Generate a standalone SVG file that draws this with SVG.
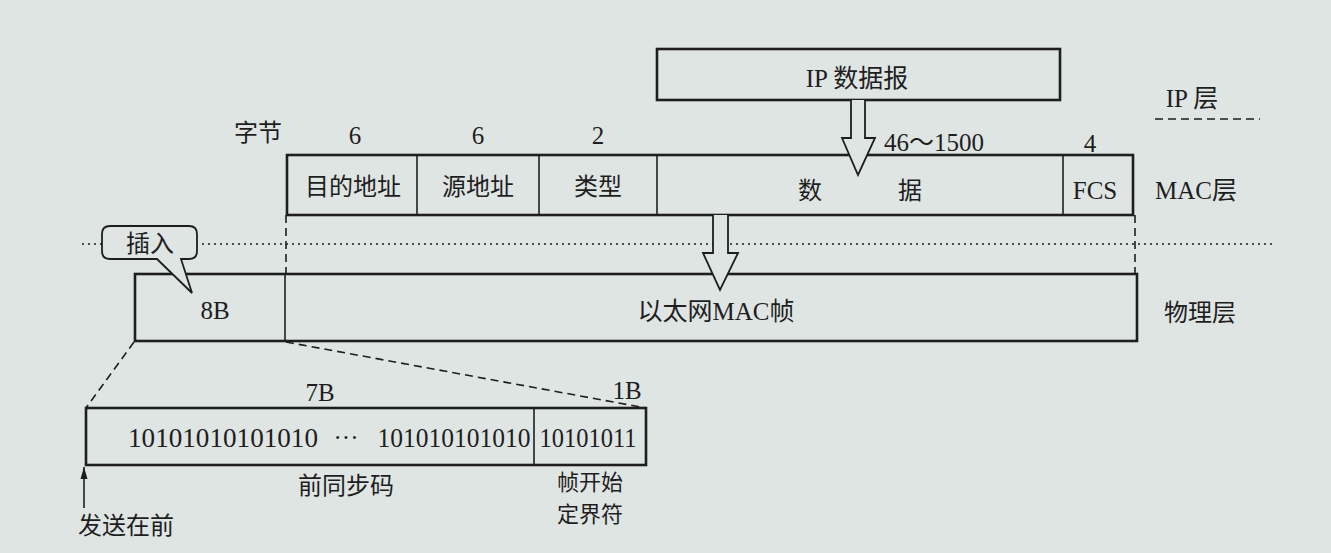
<svg xmlns="http://www.w3.org/2000/svg" width="1331" height="553" viewBox="0 0 1331 553">
<style>
.t{font-family:"Liberation Serif","Noto Sans CJK SC",serif;font-size:25px;fill:#1e1e1e;text-anchor:middle}
.b{font-size:28px}
.c{font-family:"Noto Sans CJK SC","Liberation Serif",sans-serif;font-size:24px;fill:#1e1e1e;text-anchor:middle}
.s{font-size:22px}
.box{fill:#dfe5e3;stroke:#1e1e1e;stroke-width:2.6}
.div{stroke:#1e1e1e;stroke-width:1.6;fill:none}
.dash{stroke:#1e1e1e;stroke-width:1.6;stroke-dasharray:8 5;fill:none}
.dot{stroke:#1e1e1e;stroke-width:1.4;stroke-dasharray:2 4;fill:none}
.arr{fill:#dfe5e3;stroke:#1e1e1e;stroke-width:1.8;stroke-linejoin:miter}
</style>
<defs>
<marker id="ah" markerWidth="12" markerHeight="8" refX="12" refY="4" orient="auto" markerUnits="userSpaceOnUse" viewBox="0 0 12 8">
<path d="M0,0.5 L12,4 L0,7.5 Z" fill="#1e1e1e"/>
</marker>
</defs>
<rect width="1331" height="553" fill="#dfe5e3"/>

<g id="connectors">
<line class="dot" x1="82" y1="244" x2="1272" y2="244"/>
<line class="dash" x1="1155" y1="119" x2="1260" y2="119"/>
<line class="dash" x1="286" y1="215" x2="286" y2="274"/>
<line class="dash" x1="1135" y1="215" x2="1135" y2="274"/>
<line class="dash" x1="134" y1="342" x2="86" y2="408"/>
<line class="dash" x1="286" y1="342" x2="646" y2="408"/>
<line x1="84" y1="508" x2="84" y2="467" stroke="#1e1e1e" stroke-width="1.6" marker-end="url(#ah)"/>
</g>

<g id="ip-datagram">
<rect class="box" x="657" y="49" width="403" height="51"/>
<text class="t" x="857" y="87">IP 数据报</text>
</g>

<g id="mac-frame">
<rect class="box" x="287" y="155" width="846" height="60"/>
<line class="div" x1="417" y1="155" x2="417" y2="215"/>
<line class="div" x1="539" y1="155" x2="539" y2="215"/>
<line class="div" x1="657" y1="155" x2="657" y2="215"/>
<line class="div" x1="1063" y1="155" x2="1063" y2="215"/>
<text class="c" x="353" y="195">目的地址</text>
<text class="c" x="478" y="195">源地址</text>
<text class="c" x="598" y="195">类型</text>
<text class="c" x="810" y="199">数</text>
<text class="c" x="910" y="199">据</text>
<text class="t" x="1095" y="199">FCS</text>
</g>

<g id="physical-frame">
<rect class="box" x="135" y="274" width="1002" height="67"/>
<line class="div" x1="285" y1="274" x2="285" y2="341"/>
<text class="t" x="215" y="319">8B</text>
<text class="t" x="716" y="320">以太网MAC帧</text>
</g>

<g id="arrow-ip-to-mac">
<path class="arr" d="M851,100 V138 H842 L858,175 L875,138 H865 V100"/>
</g>
<g id="arrow-mac-to-phy">
<path class="arr" d="M713,215 V253 H703 L720,290 L738,253 H728 V215"/>
</g>

<g id="insert-callout">
<path class="arr" d="M110,226 H189 Q197,226 197,234 V251 Q197,259 189,259 H181 L192,293 L157,259 H110 Q102,259 102,251 V234 Q102,226 110,226 Z"/>
<text class="c" x="150" y="252">插入</text>
</g>

<g id="preamble">
<rect class="box" x="86" y="408" width="560" height="57"/>
<line class="div" x1="534" y1="408" x2="534" y2="465"/>
<text class="t b" x="223" y="447" textLength="190" lengthAdjust="spacingAndGlyphs">10101010101010</text>
<text class="t" x="346" y="446">···</text>
<text class="t b" x="454" y="447" textLength="153" lengthAdjust="spacingAndGlyphs">101010101010</text>
<text class="t b" x="588" y="447" textLength="97" lengthAdjust="spacingAndGlyphs">10101011</text>
</g>

<g id="labels">
<text class="c" x="258" y="141">字节</text>
<text class="t" x="355" y="144">6</text>
<text class="t" x="478" y="144">6</text>
<text class="t" x="598" y="144">2</text>
<text class="t" x="934" y="151">46～1500</text>
<text class="t" x="1090" y="152">4</text>
<text class="t" x="1192" y="107">IP 层</text>
<text class="t" x="1196" y="199">MAC层</text>
<text class="c" x="1200" y="321">物理层</text>
<text class="t" x="320" y="401">7B</text>
<text class="t" x="627" y="399">1B</text>
<text class="c" x="346" y="494">前同步码</text>
<text class="c s" x="590" y="490">帧开始</text>
<text class="c s" x="590" y="522">定界符</text>
<text class="c" x="126" y="534">发送在前</text>
</g>
</svg>
